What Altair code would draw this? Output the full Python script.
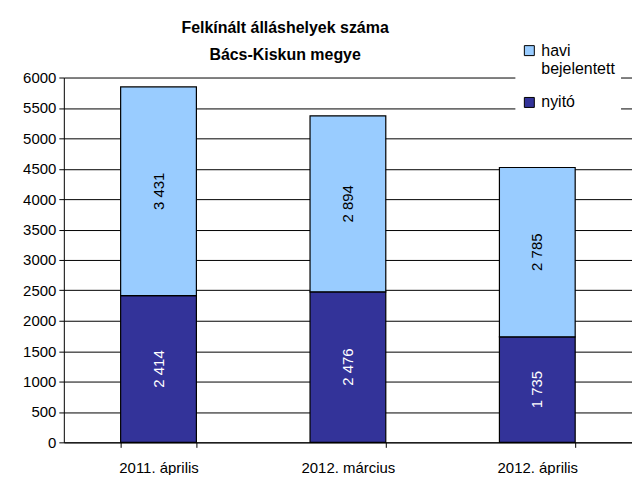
import altair as alt
import pandas as pd

categories = ["2011. április", "2012. március", "2012. április"]
nyito = [2414, 2476, 1735]
havi = [3431, 2894, 2785]
series_names = ["havi bejelentett", "nyitó"]
y_max = 6000
y_step_count = 12

rows = []
for i, c in enumerate(categories):
    base = 0
    for name, vals, order in [("nyitó", nyito, 0), ("havi bejelentett", havi, 1)]:
        v = vals[i]
        rows.append({
            "cat": c, "series": name, "value": v, "order": order,
            "mid": base + v / 2,
            "label": f"{v:,}".replace(",", " "),
        })
        base += v
df = pd.DataFrame(rows)

FONT = "Liberation Sans"

x_scale = alt.Scale(paddingInner=0.6, paddingOuter=0.3)
x_axis = alt.Axis(labelAngle=0, tickBand="extent", labelFontSize=15,
                  labelColor="black", domainColor="black", tickColor="black",
                  tickSize=5, labelPadding=13, labelFont=FONT, grid=False)
y_scale = alt.Scale(domain=[0, y_max], nice=False)
y_axis = alt.Axis(tickCount=y_step_count, format="d", labelOverlap=False,
                  labelFontSize=15, labelColor="black", labelFlush=False,
                  labelFont=FONT, grid=True, gridColor="black", gridWidth=1,
                  domainColor="black", tickColor="black", tickSize=5,
                  labelPadding=3)

bars = alt.Chart(df).mark_bar(stroke="black", strokeWidth=1.2).encode(
    x=alt.X("cat:N", sort=categories, title=None, scale=x_scale, axis=x_axis),
    y=alt.Y("value:Q", stack="zero", title=None, scale=y_scale, axis=y_axis),
    color=alt.Color("series:N", title=None,
                    scale=alt.Scale(domain=series_names, range=["#99CCFF", "#333399"]),
                    legend=alt.Legend(orient="none", legendX=453, legendY=-41,
                                      symbolType="square", symbolSize=100,
                                      symbolStrokeColor="black", symbolStrokeWidth=1,
                                      labelFontSize=16, labelFont=FONT, labelColor="black",
                                      labelExpr="datum.label == 'havi bejelentett' ? ['havi', 'bejelentett'] : datum.label",
                                      fillColor="white", padding=6, rowPadding=18,
                                      symbolOffset=0, labelOffset=4)),
    order=alt.Order("order:Q"),
)

texts = alt.Chart(df).mark_text(angle=270, fontSize=15, font=FONT, baseline="middle",
                                align="center").encode(
    x=alt.X("cat:N", sort=categories, title=None, scale=x_scale, axis=x_axis),
    y=alt.Y("mid:Q", title=None, scale=y_scale, axis=y_axis),
    text="label:N",
    color=alt.Color("series:N", scale=alt.Scale(domain=series_names, range=["black", "white"]),
                    legend=None),
)

chart = alt.layer(bars, texts).resolve_scale(color="independent").properties(
    width=570, height=366,
    title=alt.TitleParams(["Felkínált álláshelyek száma", "Bács-Kiskun megye"],
                          fontSize=16, font=FONT, fontWeight="bold", lineHeight=27,
                          anchor="middle", dx=-63, dy=40, offset=14, color="black"),
    autosize=alt.AutoSizeParams(type="none"),
    padding={"left": 56, "top": 69, "right": 0, "bottom": 32},
).configure_view(stroke=None).configure_axis(labelOverlap=False)

chart.save("out.html", embed_options={"renderer": "svg", "actions": False})
